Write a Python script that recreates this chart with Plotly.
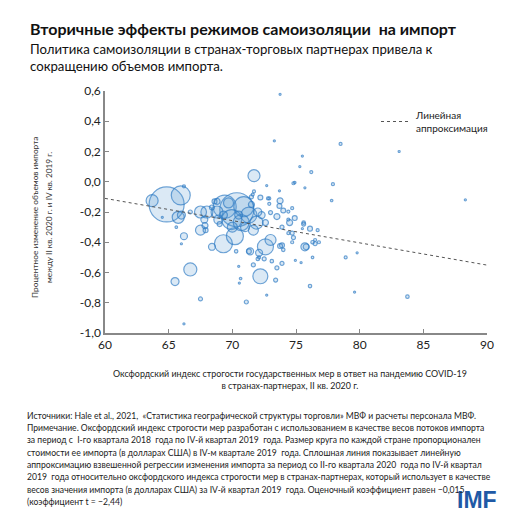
import plotly.graph_objects as go

# ---------------- data ----------------
stringency = [64.84, 65.95, 63.7, 65.75, 66.0, 66.7, 65.5, 71.7, 70.35, 69.4,
              70.9, 71.3, 69.95, 70.7, 71.9, 71.65, 69.3, 70.2, 72.6, 73.0,
              72.2, 68.8, 68.0, 67.5, 67.5, 67.9, 67.8, 67.85, 68.4, 68.6,
              66.2, 66.7, 66.2, 64.5, 65.6, 66.0, 67.5, 66.2, 71.1, 72.7,
              70.5, 70.65, 70.55, 73.4, 73.5, 71.3, 71.65, 72.0, 72.5, 73.1,
              73.9, 74.95, 75.4, 75.8, 70.3, 74.0, 73.9, 74.7, 74.4, 75.6,
              75.6, 75.5, 76.1, 75.7, 76.3, 76.5, 76.8, 76.3, 76.1, 78.9,
              79.8, 79.6, 83.75, 77.8, 88.3, 78.5, 83.1, 75.5, 75.3, 76.2,
              75.7, 77.9, 73.75, 73.3, 74.8, 74.9, 73.7, 72.7, 71.7, 71.5,
              72.2, 72.9, 73.75, 72.9, 73.7, 74.7, 74.4, 74.0, 73.0, 72.3,
              73.5, 74.9, 74.4, 74.5, 73.9, 76.7, 74.7, 76.5, 74.8, 73.75,
              71.4, 72.1, 68.8, 72.1, 71.6, 72.8, 68.9, 69.7, 70.0, 71.0,
              72.0, 72.6, 70.5, 69.3, 71.5, 68.4, 69.0]
import_change = [-0.15, -0.09, -0.125, -0.235, -0.22, -0.58, -0.66, 0.04, -0.185, -0.165,
                 -0.165, -0.22, -0.25, -0.27, -0.27, -0.32, -0.41, -0.36, -0.43, -0.385,
                 -0.625, -0.20, -0.20, -0.20, -0.32, -0.32, -0.25, -0.29, -0.43, -0.13,
                 -0.36, -0.20, -0.03, -0.235, -0.30, -0.41, -0.775, -0.94, -0.795, -0.75,
                 -0.56, -0.64, -0.67, -0.65, -0.57, -0.46, -0.55, -0.51, -0.51, -0.525,
                 -0.54, -0.52, -0.535, -0.43, -0.46, -0.45, -0.42, -0.40, -0.34, -0.27,
                 -0.28, -0.31, -0.31, -0.43, -0.40, -0.41, -0.40, -0.50, -0.69, -0.50,
                 -0.47, -0.73, -0.76, -0.124, -0.12, 0.25, 0.20, 0.17, 0.10, 0.064,
                 -0.04, -0.016, 0.578, 0.27, -0.01, -0.005, -0.06, -0.025, -0.064, -0.10,
                 -0.104, -0.11, -0.126, -0.146, -0.16, -0.175, -0.197, -0.19, -0.204, -0.22,
                 -0.23, -0.24, -0.25, -0.27, -0.30, -0.32, -0.34, -0.385, -0.37, -0.425,
                 -0.46, -0.47, -0.13, -0.50, -0.085, -0.11, -0.25, -0.14, -0.30, -0.30,
                 -0.20, -0.27, -0.22, -0.22, -0.15, -0.17, -0.28]
import_value_q4_2019 = [612, 180, 72, 72, 32, 85, 32, 72, 578, 265,
                        200, 128, 200, 128, 85, 50, 162, 145, 128, 60,
                        112, 72, 72, 72, 50, 12, 24, 18, 24, 12,
                        24, 8, 4.5, 2, 3, 2, 8, 2, 8, 2,
                        2, 3, 2, 8, 8, 12, 8, 6, 8, 6,
                        8, 2, 2, 18, 6, 6, 12, 4.5, 4.5, 6,
                        8, 2, 12, 32, 6, 8, 4.5, 3, 6, 4.5,
                        2, 2, 6, 3, 2, 4.5, 2, 2, 2, 4.5,
                        2, 4.5, 2, 2, 4.5, 3, 2, 2, 4.5, 8,
                        12, 4.5, 18, 4.5, 12, 4.5, 4.5, 12, 8, 24,
                        18, 12, 4.5, 18, 8, 4.5, 8, 4.5, 8, 12,
                        24, 24, 18, 4.5, 4.5, 4.5, 40, 50, 50, 40,
                        32, 18, 32, 32, 18, 12, 12]

trend_intercept = 0.772
trend_slope = -0.0147
trend_x = [60, 90]

y_ticks = [-1.0, -0.8, -0.6, -0.4, -0.2, 0.0, 0.2, 0.4, 0.6]
y_tick_labels = ["-1,0", "-0,8", "-0,6", "-0,4", "-0,2", "0,0", "0,2", "0,4", "0,6"]
x_ticks = [60, 65, 70, 75, 80, 85, 90]

title = "Вторичные эффекты режимов самоизоляции  на импорт"
subtitle = ("Политика самоизоляции в странах-торговых партнерах привела к<br>"
            "сокращению объемов импорта.")
x_title = ("Оксфордский индекс строгости государственных мер в ответ на пандемию COVID-19<br>"
           "в странах-партнерах, II кв. 2020 г.")
y_title_lines = ["Процентное изменение объемов импорта",
                 "между II кв. 2020 г. и IV кв. 2019 г."]
legend_label = "Линейная<br>аппроксимация"
note_lines = [
    "Источники: Hale et al., 2021,  «Статистика географической структуры торговли» МВФ и расчеты персонала МВФ.",
    "Примечание. Оксфордский индекс строгости мер разработан с использованием в качестве весов потоков импорта",
    "за период с  I-го квартала 2018  года по IV-й квартал 2019  года. Размер круга по каждой стране пропорционален",
    "стоимости ее импорта (в долларах США) в IV-м квартале 2019  года. Сплошная линия показывает линейную",
    "аппроксимацию взвешенной регрессии изменения импорта за период со II-го квартала 2020  года по IV-й квартал",
    "2019  года относительно оксфордского индекса строгости мер в странах-партнерах, который использует в качестве",
    "весов значения импорта (в долларах США) за IV-й квартал 2019  года. Оценочный коэффициент равен −0,015",
    "(коэффициент t = −2,44)",
]

# ---------------- figure ----------------
W, H = 530, 530
ML, MR, MT, MB = 105, 43, 91, 197
PW, PH = W - ML - MR, H - MT - MB


def px(x):
    return (x - ML) / PW


def py(y):
    return (H - MB - y) / PH


FONT = "Lato"

fig = go.Figure()

fig.add_trace(go.Scatter(
    x=stringency, y=import_change, mode="markers",
    marker=dict(size=import_value_q4_2019, sizemode="area", sizeref=1.0, sizemin=1,
                color="rgba(91,155,213,0.30)",
                line=dict(color="#2E7BC4", width=1.2)),
    showlegend=False, hoverinfo="skip"))

fig.add_trace(go.Scatter(
    x=trend_x, y=[trend_intercept + trend_slope * v for v in trend_x],
    mode="lines", line=dict(color="#555555", width=1, dash="dot"),
    name=legend_label, showlegend=True, hoverinfo="skip"))

fig.update_layout(
    width=W, height=H, autosize=False,
    margin=dict(l=ML, r=MR, t=MT, b=MB),
    plot_bgcolor="white", paper_bgcolor="white",
    font=dict(family=FONT, color="#222222"),
    showlegend=True,
    legend=dict(x=px(376), y=py(102), xanchor="left", yanchor="top",
                bgcolor="rgba(0,0,0,0)", font=dict(size=10, family=FONT, color="#222222"),
                valign="middle", itemwidth=30),
    xaxis=dict(range=[60, 90], tickvals=x_ticks, ticks="inside", ticklen=4,
               tickcolor="#888888", showline=True, linecolor="#888888", linewidth=1.5,
               showgrid=False, zeroline=False, tickfont=dict(size=12, color="#222222"),
               fixedrange=True),
    yaxis=dict(range=[-1.0, 0.6], tickvals=y_ticks, ticktext=y_tick_labels,
               ticks="inside", ticklen=4, tickcolor="#888888", showline=True,
               linecolor="#888888", linewidth=1.5, showgrid=False, zeroline=False,
               tickfont=dict(size=12, color="#222222"), fixedrange=True),
)

ann = [
    dict(text="<b>" + title + "</b>", x=px(28), y=py(28), xanchor="left", yanchor="middle",
         font=dict(size=16, color="#111111")),
    dict(text=subtitle, x=px(28), y=py(58), xanchor="left", yanchor="middle", align="left",
         font=dict(size=13.2, color="#111111")),
    dict(text=x_title, x=px(290), y=py(379), xanchor="center", yanchor="middle", align="center",
         font=dict(size=8.9, color="#222222")),
    dict(text="<b>IMF</b>", x=px(477), y=py(500), xanchor="center", yanchor="middle",
         font=dict(size=23, color="#1F5AA6", family="Liberation Sans")),
]
for i, line in enumerate(y_title_lines):
    ann.append(dict(text=line, x=px(35 + 14 * i), y=py(218), xanchor="center",
                    yanchor="middle", textangle=-90, font=dict(size=8.3, color="#333333")))
for i, line in enumerate(note_lines):
    ann.append(dict(text=line, x=px(25), y=py(415.7 + 12.3 * i), xanchor="left",
                    yanchor="middle", align="left", font=dict(size=8.6, color="#222222")))
for a in ann:
    a.update(xref="paper", yref="paper", showarrow=False)
fig.update_layout(annotations=ann)

fig.write_html("out.html", config={"displayModeBar": False},
               post_script="document.body.style.margin='0';")
